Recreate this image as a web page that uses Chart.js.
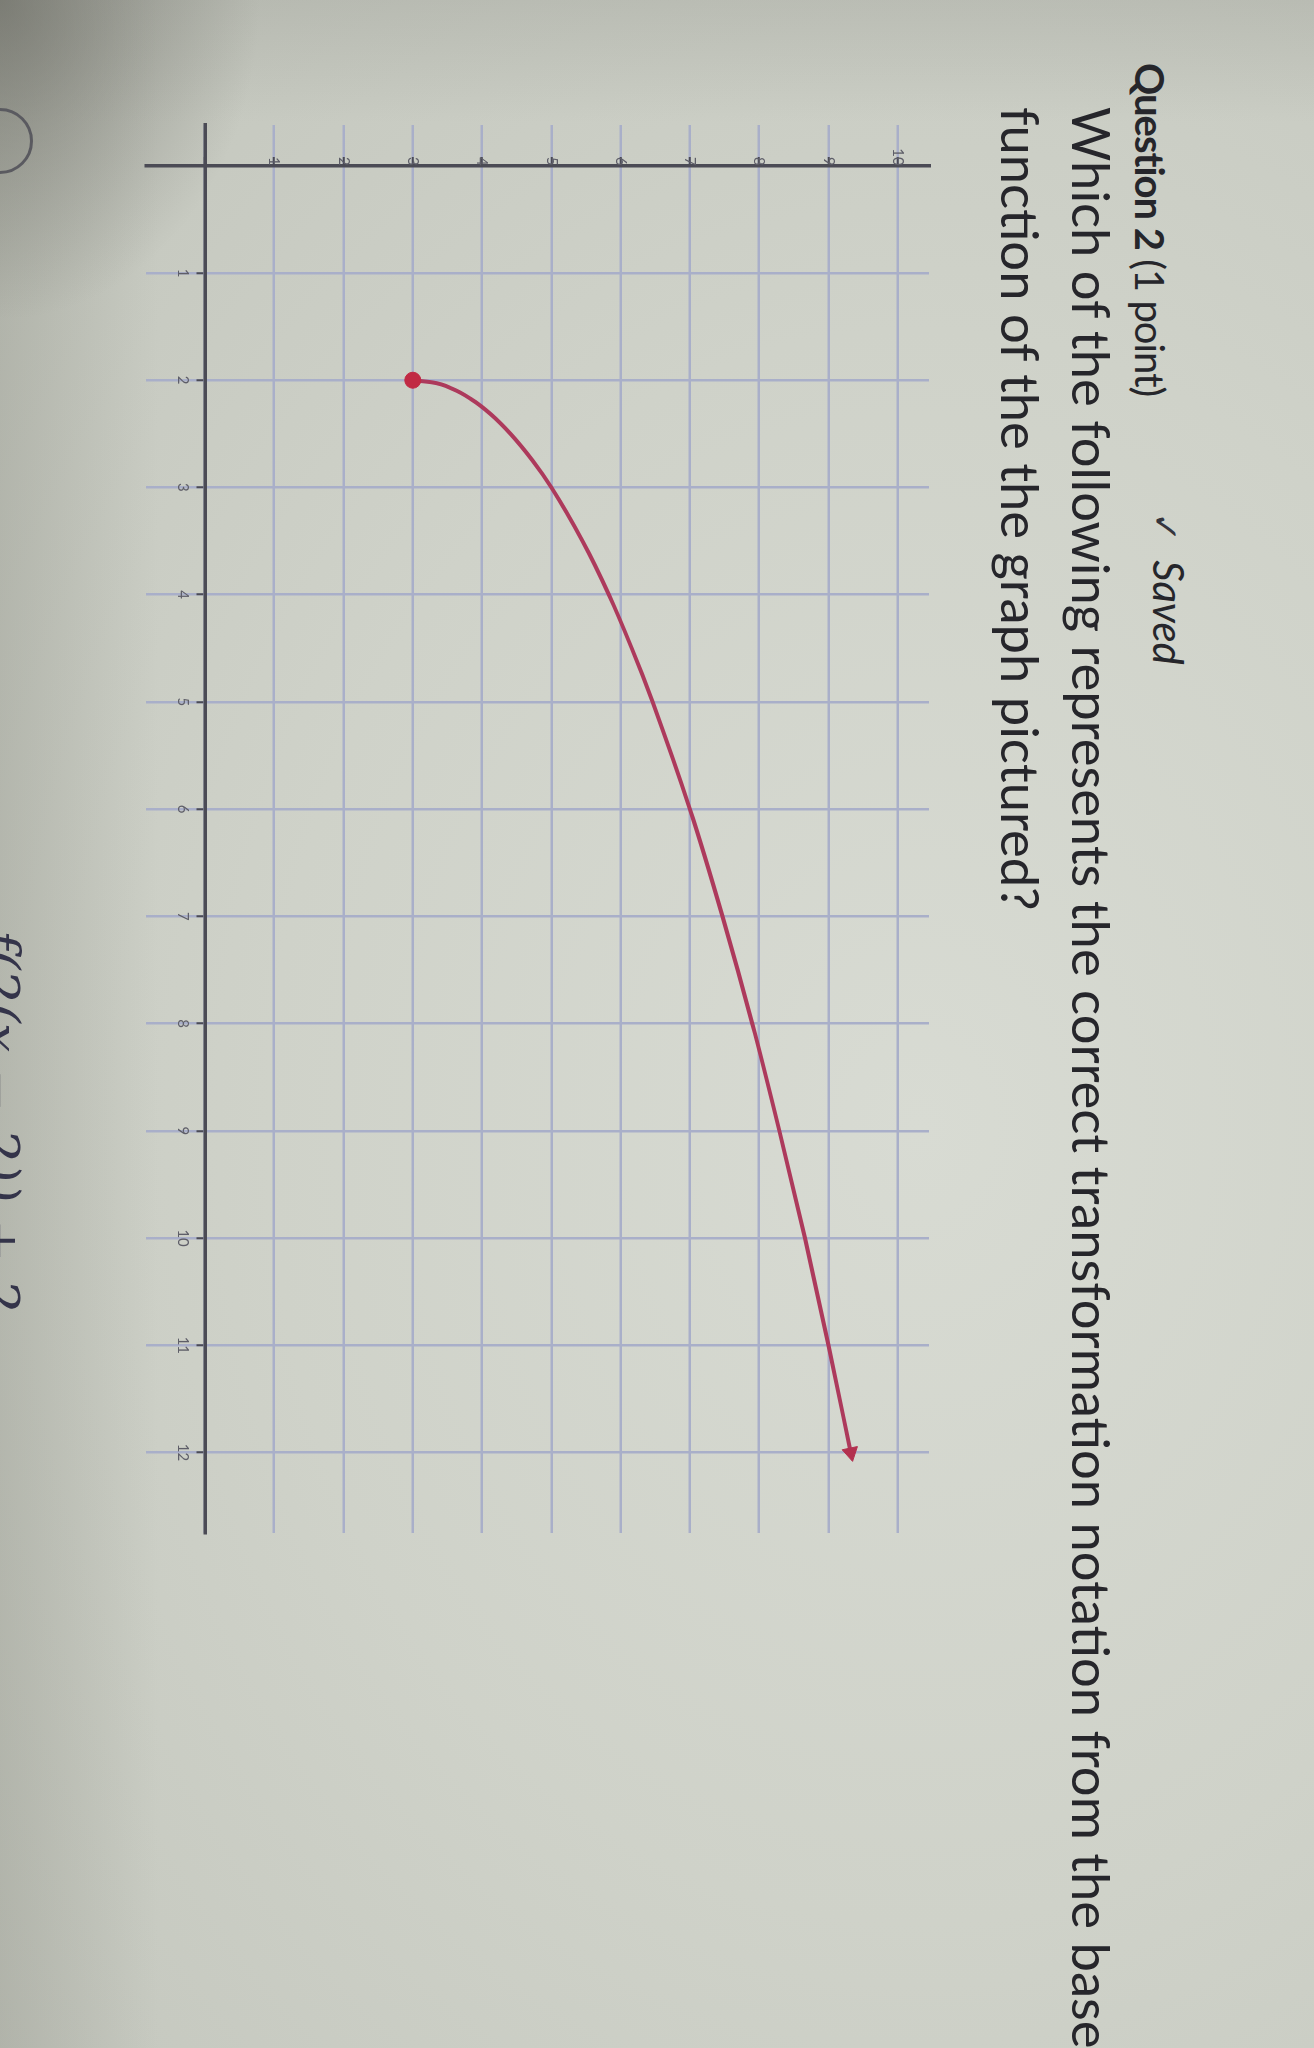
<!DOCTYPE html>
<html>
<head>
<meta charset="utf-8">
<script src="https://cdn.jsdelivr.net/npm/chart.js@4.4.1/dist/chart.umd.min.js"></script>
<style>
  html, body { margin: 0; padding: 0; width: 1314px; height: 2048px; overflow: hidden; }
  body {
    background:
      radial-gradient(ellipse 260px 320px at 0% 0%, rgba(95,95,88,0.6) 0%, rgba(95,95,88,0) 100%),
      linear-gradient(to right, rgba(140,142,132,0.35) 0%, rgba(140,142,132,0) 12%),
      linear-gradient(to bottom, rgba(150,152,144,0.3) 0%, rgba(150,152,144,0) 6%),
      radial-gradient(ellipse at 70% 55%, #d8dbd3 0%, #cfd2c9 50%, #c2c5bc 100%);
  }
  /* the page is laid out upright, then turned a quarter turn clockwise */
  #page {
    position: absolute; left: 0; top: 0;
    width: 2048px; height: 1314px;
    transform-origin: 0 0;
    transform: translate(1314px, 0) rotate(90deg);
    font-family: Lato, "Open Sans", sans-serif;
    color: #26262b;
  }
  .abs { position: absolute; white-space: nowrap; }
  #title { left: 63px; top: 139px; font-size: 40px; line-height: 50px; letter-spacing: -1px; }
  #title b { font-weight: 700; }
  #saved { left: 512px; top: 120px; font-size: 42px; line-height: 50px; }
  #saved .tick { font-family: "DejaVu Sans", sans-serif; font-weight: bold; font-size: 36px; color: #35353d; margin-right: 18px; }
  #saved i { font-style: italic; }
  #q1 { left: 107px; top: 190px; font-size: 52.5px; line-height: 64px; }
  #q2 { left: 107px; top: 261px; font-size: 52.5px; line-height: 64px; }
  #chartBox { left: 115px; top: 370px; width: 1428px; height: 813px; }
  #radio { left: 108px; top: 1281px; width: 60px; height: 60px; border: 3px solid #5a5a60; border-radius: 50%; }
  #choice { left: 930px; top: 1284px; font-family: "DejaVu Serif", serif; font-style: italic; font-size: 52px; line-height: 60px; color: #34344a; }
</style>
</head>
<body>
<div id="page">
  <div id="title" class="abs"><b>Question 2</b> (1 point)</div>
  <div id="saved" class="abs"><span class="tick">✓</span><i>Saved</i></div>
  <div id="q1" class="abs">Which of the following represents the correct transformation notation from the base</div>
  <div id="q2" class="abs">function of the the graph pictured?</div>
  <div id="chartBox" class="abs"><canvas id="graph" width="1428" height="813"></canvas></div>
  <div id="radio" class="abs"></div>
  <div id="choice" class="abs">f(2(x − 2)) + 2</div>
</div>
<script>
// points along the plotted curve
const curveX = [2, 2.02, 2.08, 2.18, 2.32, 2.5, 2.75, 3, 3.5, 4, 4.5, 5, 6, 7, 8, 9, 10, 11, 12];
const curveY = [3, 3.28, 3.57, 3.85, 4.13, 4.41, 4.73, 5, 5.45, 5.83, 6.16, 6.46, 7, 7.47, 7.9, 8.29, 8.66, 9, 9.32];

// closed endpoint and arrow end
const startPoint = [2, 3];
const endPoint = [12, 9.32];

// axis tick labels
const xTickLabels = ['1', '2', '3', '4', '5', '6', '7', '8', '9', '10', '11', '12'];
const yTickLabels = ['1', '2', '3', '4', '5', '6', '7', '8', '9', '10'];

const curveColor = '#ad3a5c';
const gridColor = '#a9afc9';
const axisColor = '#4b4b55';
const labelColor = '#5e5e68';

const curveData = curveX.map((x, i) => ({ x: x, y: curveY[i] }));

new Chart(document.getElementById('graph'), {
  type: 'scatter',
  data: {
    datasets: [
      {
        data: curveData,
        showLine: true,
        borderColor: curveColor,
        borderWidth: 4,
        pointRadius: 0,
        cubicInterpolationMode: 'monotone',
        order: 2
      },
      {
        data: [{ x: startPoint[0], y: startPoint[1] }],
        pointRadius: 8,
        pointBackgroundColor: '#c12a44',
        pointBorderColor: '#c12a44',
        order: 1
      },
      {
        data: [{ x: endPoint[0], y: endPoint[1] }],
        pointStyle: 'triangle',
        pointRadius: 9,
        rotation: 78,
        pointBackgroundColor: '#b3304f',
        pointBorderColor: '#b3304f',
        order: 1
      }
    ]
  },
  options: {
    responsive: false,
    animation: false,
    events: [],
    layout: { padding: 0 },
    plugins: { legend: { display: false }, tooltip: { enabled: false } },
    scales: {
      x: {
        type: 'linear',
        min: -0.38,
        max: 12.75,
        position: { y: 0 },
        ticks: {
          stepSize: 1,
          includeBounds: false,
          autoSkip: false,
          maxRotation: 0,
          padding: 6,
          color: labelColor,
          font: { family: 'Lato', size: 15 },
          callback: v => (v >= 1 && v <= xTickLabels.length) ? xTickLabels[v - 1] : ''
        },
        grid: { color: gridColor, lineWidth: 2.5, drawTicks: true, tickLength: 7, tickColor: axisColor, tickWidth: 2 },
        border: { color: axisColor, width: 3.5 }
      },
      y: {
        type: 'linear',
        min: -0.85,
        max: 10.45,
        position: { x: 0 },
        ticks: {
          stepSize: 1,
          includeBounds: false,
          autoSkip: false,
          padding: 6,
          color: labelColor,
          font: { family: 'Lato', size: 15 },
          callback: v => (v >= 1 && v <= yTickLabels.length) ? yTickLabels[v - 1] : ''
        },
        grid: { color: gridColor, lineWidth: 2.5, drawTicks: true, tickLength: 7, tickColor: axisColor, tickWidth: 2 },
        border: { color: axisColor, width: 3.5 }
      }
    }
  }
});
</script>
</body>
</html>
